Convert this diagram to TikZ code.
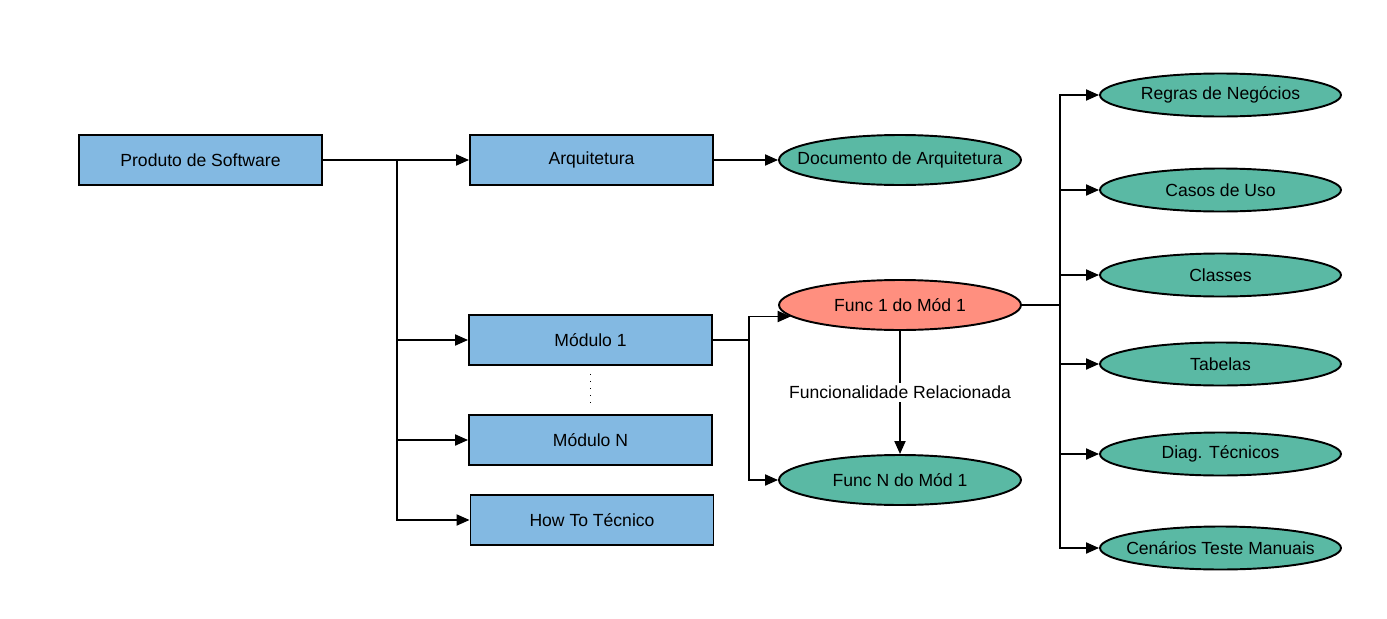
\documentclass[tikz,border=0pt]{standalone}
\usepackage{fontspec}
\setmainfont{Liberation Sans}
\usetikzlibrary{shapes.geometric,arrows.meta}
\definecolor{azul}{HTML}{83B9E2}
\definecolor{verde}{HTML}{5AB9A4}
\definecolor{salmao}{HTML}{FF8F7F}
\begin{document}
\begin{tikzpicture}[x=0.02cm, y=-0.02cm,
	bloco/.style={draw, rectangle, minimum width=4.86cm, minimum height=1cm, inner sep=0pt, fill=azul, line width=1.1pt, font=\fontsize{10}{12}\selectfont},
	oval/.style={draw, ellipse, minimum width=4.84cm, minimum height=1cm, inner ysep=0pt, inner xsep=-0.8cm, fill=#1, line width=1.1pt, font=\fontsize{10}{12}\selectfont},
	ovalzinho/.style={oval=verde, minimum width=4.82cm, minimum height=0.86cm},
	seta/.style={-{Triangle[length=0.26cm,width=0.22cm]}, line width=1.1pt}]
	\useasboundingbox (0,0) rectangle (1387,619);
	% coluna da esquerda
	\node[bloco] (prod) at (200.5,160) {Produto de Software};
	\node[bloco] (arq) at (591.5,160) {Arquitetura};
	\node[bloco] (m1) at (590.5,340) {Módulo 1};
	\node[bloco] (mn) at (590.5,440) {Módulo N};
	\node[bloco] (howto) at (592,520) {How To Técnico};
	% funcionalidades
	\node[oval=verde] (doc) at (900,160) {Documento de Arquitetura};
	\node[oval=salmao] (f1) at (900,305) {Func 1 do Mód 1};
	\node[oval=verde] (fn) at (900,480) {Func N do Mód 1};
	% artefatos
	\node[ovalzinho] (regras) at (1220.5,95) {Regras de Negócios};
	\node[ovalzinho] (casos) at (1220.5,190) {Casos de Uso};
	\node[ovalzinho] (classes) at (1220.5,275) {Classes};
	\node[ovalzinho] (tabelas) at (1220.5,364) {Tabelas};
	\node[ovalzinho] (diag) at (1220.5,454) {Diag. Técnicos};
	\node[ovalzinho] (cenarios) at (1220.5,548) {Cenários Teste Manuais};
	\coordinate (barra) at (397,160);
	\coordinate (barra2) at (1060,305);
	\draw[seta] (prod) -- (arq);
	\foreach \n in {m1,mn,howto}
		\draw[seta] (barra) |- (\n.west);
	\draw[seta] (arq) -- (doc);
	\draw[dotted, line width=0.8pt, dash pattern=on 0.8pt off 3.2pt, shorten >=0.16cm, shorten <=0.16cm] (m1) -- (mn);
	\draw[seta] (m1.east) -- ++(36,0) |- (f1.186);
	\draw[seta] (m1.east) -- ++(36,0) |- (fn.west);
	\draw[seta] (f1) -- (fn) node[midway, fill=white, inner sep=2pt, font=\fontsize{10}{12}\selectfont] (rel) {Funcionalidade Relacionada};
	\draw[line width=1.1pt] (f1.east) -- (barra2);
	\foreach \n in {regras,casos,classes,tabelas,diag,cenarios}
		\draw[seta] (barra2) |- (\n.west);
\end{tikzpicture}
\end{document}
